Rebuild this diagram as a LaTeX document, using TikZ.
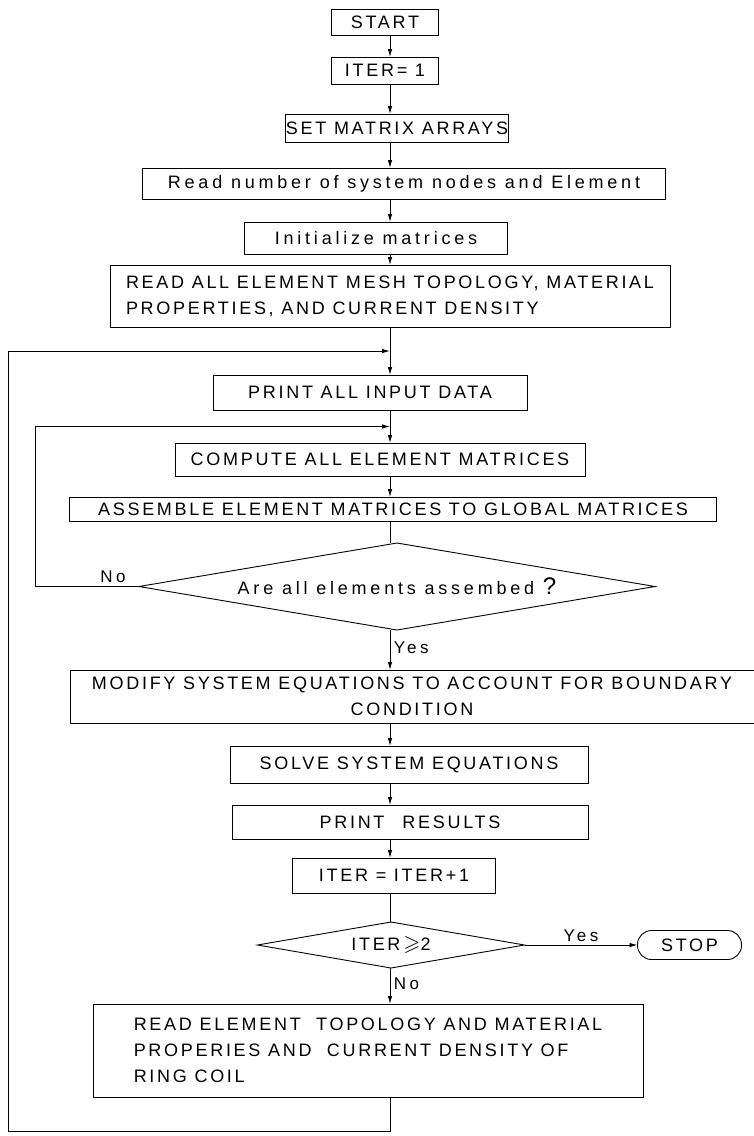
\documentclass[tikz,border=0pt]{standalone}
\usepackage{amssymb}
\usepackage{fontspec}
\usepackage{tikz}
\usetikzlibrary{arrows.meta,positioning,shapes.geometric,calc}
\newfontfamily\letterfont{Liberation Sans}[LetterSpace=15]
\newfontfamily\smallletterfont{Liberation Sans}[LetterSpace=21]
\newcommand{\flowfont}{\letterfont\fontsize{18}{26}\selectfont}
\newcommand{\lowfont}{\smallletterfont\fontsize{18}{26}\selectfont}
\newcommand{\labelfont}{\smallletterfont\fontsize{17}{20}\selectfont}
\tikzset{
  stepbox/.style={draw,line width=0.9pt,inner sep=0pt,outer sep=0pt,align=center,font=\flowfont},
  textbox/.style={stepbox,align=left},
  decision/.style={diamond,draw,line width=0.9pt,inner sep=0pt,outer sep=0pt,align=center,font=\flowfont},
  terminal/.style={stepbox,rounded corners=14pt},
  flow/.style={-{Latex[length=8pt,width=4.5pt]},line width=0.9pt},
  plain/.style={line width=0.9pt},
  lbl/.style={font=\labelfont}
}

\begin{document}
\begin{tikzpicture}[x=1pt,y=1pt]
  \useasboundingbox (0,0) rectangle (753,-1136);
  \coordinate (ax) at (390,0);
  \node[stepbox,minimum width=107pt,minimum height=26pt] (start) at (385,-22) {START};
  \node[stepbox,below=22pt of start,minimum width=107pt,minimum height=27pt] (iter1) {ITER= 1};
  \node[stepbox,below=30pt of iter1,xshift=12pt,minimum width=218pt,minimum height=28pt] (setarr) {SET MATRIX ARRAYS};
  \node[stepbox,font=\lowfont,below=26pt of setarr,xshift=7pt,minimum width=523pt,minimum height=31pt] (readnum) {Read number of system nodes and Element};
  \node[stepbox,font=\lowfont,below=23pt of readnum,xshift=-28pt,minimum width=263pt,minimum height=32pt] (initmat) {Initialize matrices};
  \node[textbox,below=11pt of initmat,xshift=14pt,minimum width=560pt,minimum height=62pt] (readall) {READ ALL ELEMENT MESH TOPOLOGY, MATERIAL\\PROPERTIES, AND CURRENT DENSITY};
  \node[stepbox,below=48pt of readall,xshift=-20pt,minimum width=314pt,minimum height=35pt] (printin) {PRINT ALL INPUT DATA};
  \node[stepbox,below=33pt of printin,xshift=10pt,minimum width=410pt,minimum height=33pt] (compute) {COMPUTE ALL ELEMENT MATRICES};
  \node[stepbox,below=21pt of compute,xshift=13pt,minimum width=647pt,minimum height=24pt] (assemble) {ASSEMBLE ELEMENT MATRICES TO GLOBAL MATRICES};
  \node[decision,font=\lowfont,below=22pt of assemble,xshift=4pt,aspect=5.86,minimum width=516pt,minimum height=87pt] (check) {Are all elements assembed {\fontsize{24}{26}\selectfont ?}};
  \node[stepbox,below=40pt of check,xshift=15pt,minimum width=684pt,minimum height=53pt] (modify) {MODIFY SYSTEM EQUATIONS TO ACCOUNT FOR BOUNDARY\\CONDITION};
  \node[stepbox,below=23pt of modify,xshift=-3pt,minimum width=358pt,minimum height=37pt] (solve) {SOLVE SYSTEM EQUATIONS};
  \node[stepbox,below=22pt of solve,xshift=1pt,minimum width=356pt,minimum height=34pt] (results) {PRINT\quad RESULTS};
  \node[stepbox,below=19pt of results,xshift=-16pt,minimum width=203pt,minimum height=35pt] (iter2) {ITER = ITER+1};
  \node[decision,below=29pt of iter2,xshift=-3pt,aspect=5.8,minimum width=267pt,minimum height=46pt] (itercheck) {ITER\,{\fontsize{22}{24}\selectfont$\geqslant$}2};
  \node[terminal,right=113pt of itercheck,minimum width=104pt,minimum height=29pt] (stop) {STOP};
  \node[textbox,below=36pt of itercheck,xshift=-23pt,minimum width=550pt,minimum height=93pt] (readring) {READ ELEMENT\ \ TOPOLOGY AND MATERIAL\\PROPERIES AND\ \ CURRENT DENSITY OF\\RING COIL};
  \coordinate (outer) at ($(readall.south -| ax)!0.5!(printin.north -| ax)$);
  \coordinate (inner) at ($(printin.south -| ax)!0.5!(compute.north -| ax)$);
  \coordinate (innerx) at (35,0);
  \coordinate (outerx) at (8,-1131);
  \draw[flow] (start.south -| ax) -- (iter1.north -| ax);
  \draw[flow] (iter1.south -| ax) -- (setarr.north -| ax);
  \draw[flow] (setarr.south -| ax) -- (readnum.north -| ax);
  \draw[flow] (readnum.south -| ax) -- (initmat.north -| ax);
  \draw[flow] (initmat.south -| ax) -- (readall.north -| ax);
  \draw[plain] (readall.south -| ax) -- (outer);
  \draw[flow] (outer) -- (printin.north -| ax);
  \draw[plain] (printin.south -| ax) -- (inner);
  \draw[flow] (inner) -- (compute.north -| ax);
  \draw[flow] (compute.south -| ax) -- (assemble.north -| ax);
  \draw[plain] (assemble.south -| ax) -- (check.north -| ax);
  \draw[flow] (check.south -| ax) -- node[lbl,right,pos=0.45] {Yes} (modify.north -| ax);
  \draw[flow] (check.west) -- node[lbl,above,pos=0.25] {No} (check.west -| innerx) |- (inner);
  \draw[flow] (modify.south -| ax) -- (solve.north -| ax);
  \draw[flow] (solve.south -| ax) -- (results.north -| ax);
  \draw[flow] (results.south -| ax) -- (iter2.north -| ax);
  \draw[plain] (iter2.south -| ax) -- (itercheck.north -| ax);
  \draw[flow] (itercheck.east) -- node[lbl,above,pos=0.5] {Yes} (stop.west);
  \draw[flow] (itercheck.south -| ax) -- node[lbl,right,pos=0.45] {No} (readring.north -| ax);
  \draw[flow] (readring.south -| ax) |- (outerx) |- (outer);
\end{tikzpicture}
\end{document}
